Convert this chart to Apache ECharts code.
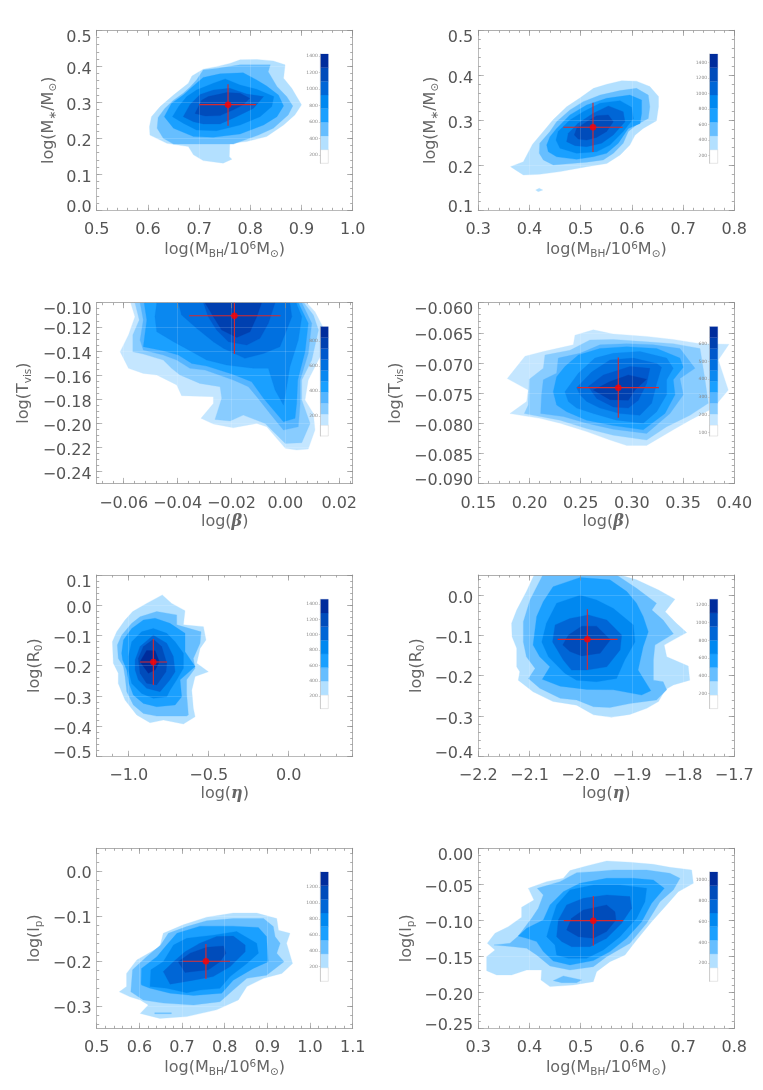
<!DOCTYPE html>
<html><head><meta charset="utf-8">
<style>html,body{margin:0;padding:0;background:#fff}#c{width:763px;height:1090px}</style>
<script src="https://cdn.jsdelivr.net/npm/echarts@6/dist/echarts.min.js"></script>
</head><body><div id="c"></div>
<script>
// ---------- contour outlines: [level [polygon [x,y]...]...] in data units ----------
const p1Contours = [
 [[[.603,.232],[.607,.260],[.624,.288],[.650,.320],[.679,.353],[.686,.373],[.708,.392],[.734,.399],[.760,.408],[.780,.418],[.813,.419],[.845,.415],[.868,.404],[.865,.367],[.881,.339],[.900,.293],[.887,.265],[.865,.237],[.832,.205],[.793,.191],[.760,.186],[.759,.149],[.764,.142],[.747,.131],[.708,.138],[.689,.154],[.679,.177],[.637,.186],[.617,.200],[.604,.209]]],
 [[[.618,.228],[.620,.258],[.633,.283],[.650,.306],[.669,.325],[.682,.342],[.695,.362],[.708,.390],[.734,.394],[.780,.404],[.839,.404],[.835,.385],[.852,.344],[.871,.316],[.883,.290],[.874,.265],[.845,.228],[.816,.209],[.767,.184],[.702,.184],[.650,.184],[.630,.200]]],
 [[[.632,.260],[.646,.297],[.669,.320],[.686,.342],[.708,.369],[.741,.379],[.786,.382],[.8125,.362],[.832,.345],[.855,.320],[.865,.290],[.852,.260],[.826,.237],[.780,.212],[.728,.203],[.689,.205],[.650,.228]]],
 [[[.648,.260],[.660,.288],[.676,.316],[.695,.334],[.728,.353],[.751,.365],[.780,.348],[.8125,.336],[.846,.316],[.842,.288],[.819,.260],[.780,.237],[.734,.221],[.695,.223],[.669,.242]]],
 [[[.669,.260],[.682,.293],[.702,.322],[.728,.334],[.760,.339],[.793,.323],[.826,.316],[.806,.283],[.773,.260],[.741,.240],[.708,.240],[.689,.246]]],
 [[[.692,.269],[.705,.306],[.718,.316],[.754,.327],[.780,.325],[.799,.311],[.786,.293],[.767,.279],[.741,.263],[.712,.262]]]
];
const p2Contours = [
 [[[.363,.197],[.388,.208],[.406,.247],[.427,.275],[.446,.301],[.4725,.330],[.499,.350],[.525,.371],[.551,.380],[.580,.388],[.609,.387],[.635,.375],[.652,.353],[.652,.330],[.648,.299],[.622,.282],[.606,.267],[.596,.245],[.577,.223],[.551,.204],[.512,.197],[.460,.186],[.420,.180],[.388,.1785],[.375,.188]],
  [[.412,.145],[.419,.149],[.426,.145],[.417,.1415]]],
 [[[.419,.227],[.420,.249],[.440,.275],[.453,.297],[.479,.323],[.505,.3415],[.538,.356],[.577,.366],[.609,.371],[.632,.356],[.635,.330],[.632,.304],[.609,.290],[.593,.275],[.583,.249],[.564,.227],[.544,.212],[.512,.207],[.4465,.2007],[.427,.212]]],
 [[[.4335,.245],[.440,.2637],[.453,.282],[.479,.312],[.5116,.334],[.5506,.349],[.596,.356],[.619,.345],[.619,.3156],[.616,.293],[.593,.282],[.5734,.249],[.5506,.2267],[.5246,.219],[.492,.2133],[.453,.219],[.4367,.230]]],
 [[[.4517,.256],[.456,.275],[.479,.3007],[.505,.319],[.5376,.338],[.5767,.3437],[.5995,.329],[.603,.304],[.583,.275],[.557,.245],[.531,.230],[.492,.2267],[.4595,.238]]],
 [[[.4725,.2526],[.4758,.271],[.495,.2933],[.5246,.3156],[.554,.332],[.583,.319],[.5865,.297],[.5637,.2674],[.5409,.249],[.5116,.2415],[.489,.2437]]],
 [[[.4875,.2674],[.492,.282],[.5116,.297],[.531,.310],[.554,.312],[.5637,.297],[.5506,.275],[.531,.262],[.5116,.256],[.495,.2585]]]
];
const p3Contours = [
 [[[-.0574,-.10],[-.0558,-.1116],[-.0582,-.1268],[-.0613,-.1407],[-.0582,-.1545],[-.0527,-.1587],[-.0477,-.16],[-.0403,-.1683],[-.0385,-.1772],[-.0267,-.178],[-.0267,-.1836],[-.0313,-.196],[-.0267,-.2007],[-.0193,-.2038],[-.0106,-.2002],[-.0069,-.203],[0,-.2209],[.0042,-.2223],[.0085,-.2215],[.011,-.2057],[.0104,-.1919],[.0073,-.1808],[.0085,-.1642],[.0129,-.1448],[.0139,-.1199],[.011,-.1075],[.0079,-.10]]],
 [[[-.0558,-.10],[-.0542,-.1144],[-.0566,-.1268],[-.0566,-.1407],[-.0527,-.1426],[-.0453,-.1476],[-.0422,-.1545],[-.0391,-.16],[-.0317,-.167],[-.0242,-.1697],[-.0236,-.1794],[-.0261,-.1969],[-.0205,-.1982],[-.0156,-.1933],[-.0075,-.2002],[0,-.2168],[.0061,-.2162],[.0092,-.2002],[.0061,-.1808],[.0061,-.1642],[.0098,-.1476],[.0123,-.1227],[.0104,-.1102],[.0069,-.10]]],
 [[[-.0539,-.10],[-.0527,-.1144],[-.0539,-.131],[-.0527,-.1393],[-.0453,-.1434],[-.0403,-.1476],[-.0354,-.1545],[-.0298,-.1559],[-.0193,-.1642],[-.0137,-.1697],[-.0106,-.178],[-.0057,-.1919],[-.0007,-.2057],[.0048,-.203],[.0055,-.1836],[.0055,-.1642],[.0085,-.1421],[.0098,-.1171],[.0061,-.10]]],
 [[[-.0524,-.10],[-.0514,-.1144],[-.0527,-.1365],[-.0453,-.1398],[-.0397,-.1434],[-.0347,-.1504],[-.0292,-.1526],[-.0193,-.1595],[-.0125,-.1656],[-.0081,-.1794],[-.0007,-.1988],[.0036,-.196],[.0042,-.1836],[.0046,-.1642],[.0073,-.1407],[.0085,-.1171],[.0048,-.10]]],
 [[[-.0477,-.10],[-.0484,-.1116],[-.0477,-.1241],[-.0415,-.1324],[-.0347,-.1407],[-.0292,-.1476],[-.0218,-.1517],[-.0119,-.1545],[-.0063,-.1545],[-.0038,-.1725],[-.0007,-.185],[.0005,-.1697],[.0017,-.1531],[.0048,-.131],[.0061,-.1116],[.004,-.10]]],
 [[[-.0397,-.10],[-.0385,-.1102],[-.0329,-.1213],[-.0267,-.1324],[-.023,-.1379],[-.015,-.1462],[-.0081,-.1421],[-.002,-.1365],[.0005,-.1227],[.0024,-.1116],[.0017,-.10]]],
 [[[-.0304,-.10],[-.0286,-.1116],[-.0255,-.1227],[-.0211,-.1324],[-.0143,-.1351],[-.0094,-.1296],[-.0063,-.1171],[-.0038,-.10]]],
 [[[-.0298,-.10],[-.0267,-.1116],[-.0236,-.1227],[-.018,-.1288],[-.0131,-.1241],[-.0106,-.1116],[-.0088,-.10]]]
];
const p4Contours = [
 [[[.1783,-.0726],[.1956,-.0689],[.2135,-.0681],[.2428,-.067],[.2444,-.0654],[.2623,-.0645],[.2818,-.0652],[.3144,-.0656],[.3404,-.0661],[.3665,-.0668],[.3948,-.0669],[.3844,-.0695],[.3941,-.0745],[.3795,-.0775],[.3567,-.0795],[.3404,-.0811],[.3144,-.0837],[.2949,-.0837],[.2786,-.0828],[.2558,-.0814],[.2298,-.08],[.2102,-.0792],[.1809,-.0784],[.1972,-.0764],[.1988,-.0745]]],
 [[[.1998,-.0727],[.2135,-.0709],[.2151,-.0687],[.2395,-.0679],[.259,-.0662],[.2818,-.0661],[.3144,-.0665],[.3404,-.0668],[.3665,-.0676],[.3714,-.0728],[.3746,-.0767],[.3567,-.0787],[.3339,-.0806],[.3144,-.0828],[.2818,-.082],[.2558,-.0809],[.2298,-.0795],[.1949,-.0784],[.1988,-.077]]],
 [[[.2118,-.0753],[.2135,-.0728],[.2265,-.0717],[.2281,-.0692],[.2493,-.0684],[.2688,-.067],[.2949,-.0668],[.3209,-.067],[.3469,-.0676],[.3616,-.0709],[.3469,-.0726],[.3502,-.0753],[.3372,-.0784],[.3144,-.0817],[.2818,-.081],[.2558,-.08],[.233,-.0789],[.2109,-.0784]]],
 [[[.2232,-.0748],[.2265,-.0723],[.2346,-.0706],[.2477,-.0687],[.2688,-.0676],[.2949,-.0673],[.3242,-.0676],[.3469,-.0692],[.3502,-.0707],[.3404,-.0728],[.3421,-.0753],[.3323,-.0784],[.3111,-.0811],[.2818,-.0804],[.2558,-.0795],[.2363,-.0781],[.2265,-.077]]],
 [[[.2346,-.0748],[.2477,-.0717],[.2639,-.0692],[.2818,-.0684],[.3079,-.0681],[.3339,-.0692],[.3404,-.0709],[.3339,-.0728],[.3339,-.0753],[.3242,-.0781],[.3111,-.08],[.2851,-.0795],[.2623,-.0784],[.246,-.0775],[.2379,-.0764]]],
 [[[.246,-.0741],[.2607,-.0715],[.2786,-.0695],[.3014,-.0692],[.3242,-.0701],[.329,-.0707],[.3242,-.0734],[.3193,-.0767],[.3079,-.0787],[.2883,-.0784],[.2688,-.0775],[.2558,-.0764],[.2493,-.0753]]],
 [[[.2574,-.0739],[.2721,-.072],[.2981,-.0706],[.3176,-.0709],[.3144,-.0734],[.3063,-.0762],[.2965,-.0775],[.2818,-.0773],[.2656,-.0759]]],
 [[[.2623,-.0745],[.2786,-.0731],[.2965,-.072],[.3144,-.0727],[.303,-.0745],[.2965,-.0762],[.2786,-.0761]]]
];
const p5Contours = [
 [[[-1.102,-.121],[-1.075,-.088],[-1.023,-.049],[-.975,-.021],[-.888,.006],[-.79,.034],[-.731,.006],[-.648,-.018],[-.658,-.065],[-.533,-.071],[-.517,-.115],[-.554,-.143],[-.575,-.192],[-.502,-.22],[-.585,-.236],[-.606,-.281],[-.596,-.341],[-.585,-.369],[-.658,-.393],[-.783,-.38],[-.867,-.389],[-.95,-.363],[-1.023,-.314],[-1.065,-.259],[-1.065,-.225],[-1.096,-.192]]],
 [[[-1.071,-.132],[-1.044,-.099],[-.981,-.06],[-.929,-.038],[-.825,-.021],[-.7,-.032],[-.7,-.065],[-.548,-.088],[-.554,-.126],[-.596,-.176],[-.585,-.209],[-.638,-.247],[-.638,-.292],[-.627,-.363],[-.638,-.367],[-.825,-.367],[-.908,-.358],[-.971,-.33],[-1.012,-.286],[-1.023,-.236],[-1.033,-.203],[-1.065,-.176]]],
 [[[-1.044,-.159],[-1.033,-.115],[-.981,-.077],[-.908,-.049],[-.835,-.043],[-.742,-.06],[-.648,-.093],[-.648,-.154],[-.585,-.203],[-.679,-.247],[-.669,-.303],[-.71,-.33],[-.825,-.336],[-.908,-.325],[-.971,-.297],[-.998,-.259],[-1.012,-.214],[-1.038,-.181]]],
 [[[-1.002,-.17],[-.981,-.121],[-.919,-.088],[-.846,-.077],[-.762,-.093],[-.71,-.121],[-.658,-.159],[-.658,-.209],[-.7,-.247],[-.742,-.281],[-.762,-.303],[-.846,-.308],[-.919,-.292],[-.981,-.259],[-1.002,-.214]]],
 [[[-.96,-.181],[-.929,-.137],[-.846,-.099],[-.762,-.126],[-.721,-.17],[-.71,-.22],[-.742,-.247],[-.804,-.286],[-.888,-.275],[-.94,-.247],[-.96,-.214]]],
 [[[-.94,-.176],[-.908,-.137],[-.846,-.113],[-.794,-.137],[-.762,-.192],[-.767,-.22],[-.825,-.264],[-.888,-.258],[-.929,-.225]]],
 [[[-.929,-.187],[-.888,-.15],[-.835,-.151],[-.808,-.187],[-.835,-.214],[-.877,-.225]]]
];
const p6Contours = [
 [[[-2.091,.05],[-2.106,.009],[-2.125,-.037],[-2.135,-.07],[-2.134,-.103],[-2.125,-.132],[-2.125,-.178],[-2.119,-.19],[-2.122,-.211],[-2.093,-.24],[-2.054,-.264],[-2.008,-.273],[-1.975,-.297],[-1.94,-.303],[-1.904,-.296],[-1.871,-.281],[-1.848,-.264],[-1.835,-.235],[-1.819,-.223],[-1.787,-.211],[-1.79,-.176],[-1.832,-.153],[-1.837,-.124],[-1.819,-.111],[-1.793,-.093],[-1.813,-.07],[-1.835,-.041],[-1.816,-.01],[-1.848,.013],[-1.891,.038],[-1.923,.05]]],
 [[[-2.074,.05],[-2.099,-.012],[-2.112,-.066],[-2.112,-.116],[-2.106,-.153],[-2.089,-.182],[-2.102,-.207],[-2.08,-.231],[-2.04,-.256],[-2.008,-.26],[-1.975,-.277],[-1.943,-.279],[-1.904,-.269],[-1.852,-.26],[-1.832,-.235],[-1.839,-.215],[-1.858,-.211],[-1.858,-.161],[-1.855,-.124],[-1.819,-.096],[-1.839,-.062],[-1.861,-.037],[-1.852,-.02],[-1.891,.017],[-1.93,.05]]],
 [[[-2.054,.021],[-2.001,.044],[-1.943,.038],[-1.91,.009],[-1.891,-.02],[-1.878,-.053],[-1.868,-.091],[-1.878,-.128],[-1.888,-.186],[-1.863,-.237],[-1.881,-.248],[-1.936,-.235],[-1.988,-.234],[-2.04,-.226],[-2.075,-.209],[-2.06,-.178],[-2.08,-.153],[-2.093,-.124],[-2.086,-.053],[-2.073,-.016]]],
 [[[-2.076,-.116],[-2.067,-.07],[-2.047,-.02],[-2.001,0],[-1.969,-.012],[-1.936,-.033],[-1.897,-.074],[-1.894,-.116],[-1.914,-.161],[-1.93,-.207],[-1.969,-.215],[-2.008,-.211],[-2.031,-.194],[-2.063,-.153]]],
 [[[-2.055,-.116],[-2.05,-.074],[-2.021,-.058],[-1.985,-.049],[-1.949,-.062],[-1.92,-.099],[-1.923,-.136],[-1.949,-.178],[-1.988,-.186],[-2.018,-.186],[-2.034,-.161]]],
 [[[-2.035,-.124],[-2.024,-.099],[-1.998,-.077],[-1.969,-.077],[-1.942,-.111],[-1.962,-.144],[-1.998,-.151],[-2.021,-.14]]]
];
const p7Contours = [
 [[[.553,-.269],[.57,-.257],[.57,-.228],[.594,-.198],[.648,-.169],[.656,-.139],[.703,-.12],[.758,-.103],[.82,-.094],[.875,-.094],[.922,-.106],[.926,-.132],[.953,-.139],[.945,-.161],[.959,-.206],[.934,-.228],[.891,-.239],[.852,-.257],[.832,-.287],[.781,-.309],[.711,-.324],[.648,-.328],[.602,-.317],[.621,-.298],[.602,-.287],[.578,-.28]]],
 [[[.58,-.269],[.584,-.22],[.617,-.191],[.65,-.165],[.668,-.139],[.711,-.124],[.758,-.111],[.82,-.106],[.891,-.106],[.914,-.124],[.918,-.146],[.93,-.161],[.922,-.183],[.939,-.202],[.898,-.232],[.852,-.239],[.82,-.265],[.789,-.291],[.727,-.298],[.656,-.294],[.609,-.287]],
  [[.636,-.3155],[.675,-.3155],[.675,-.3175],[.636,-.3175]]],
 [[[.604,-.25],[.605,-.217],[.641,-.191],[.664,-.165],[.688,-.139],[.742,-.123],[.82,-.123],[.879,-.126],[.898,-.146],[.902,-.202],[.867,-.217],[.82,-.243],[.793,-.272],[.727,-.277],[.672,-.272],[.625,-.261],[.605,-.254]]],
 [[[.625,-.257],[.627,-.22],[.656,-.202],[.68,-.165],[.711,-.15],[.773,-.143],[.828,-.135],[.875,-.161],[.879,-.183],[.852,-.206],[.8125,-.235],[.789,-.261],[.742,-.265],[.711,-.271],[.664,-.261]]],
 [[[.656,-.224],[.68,-.202],[.707,-.18],[.742,-.161],[.781,-.146],[.82,-.145],[.848,-.165],[.848,-.18],[.8125,-.213],[.773,-.235],[.727,-.243],[.672,-.252]]],
 [[[.691,-.202],[.719,-.183],[.758,-.17],[.797,-.167],[.803,-.183],[.789,-.202],[.762,-.22],[.707,-.226]]]
];
const p8Contours = [
 [[[.3176,-.1319],[.3326,-.1181],[.3586,-.1088],[.3846,-.0958],[.3846,-.0819],[.4087,-.0718],[.3977,-.0556],[.4335,-.0463],[.466,-.0417],[.479,-.031],[.5116,-.0245],[.5506,-.0176],[.596,-.0194],[.6418,-.0222],[.6743,-.0264],[.7167,-.0301],[.72,-.0486],[.6906,-.0602],[.6678,-.0787],[.6385,-.1019],[.6092,-.1273],[.5865,-.1481],[.5572,-.1574],[.5311,-.1713],[.5246,-.1852],[.4855,-.1898],[.44,-.1921],[.4224,-.1829],[.4237,-.169],[.3944,-.169],[.3651,-.1759],[.3358,-.1759],[.3163,-.1699],[.3163,-.1505],[.3326,-.1412]]],
 [[[.3306,-.1343],[.3618,-.1319],[.3781,-.1218],[.4042,-.0972],[.4172,-.0833],[.427,-.0648],[.4152,-.0556],[.4595,-.0463],[.4921,-.0338],[.5246,-.0324],[.5637,-.0301],[.6288,-.0301],[.6743,-.0347],[.6939,-.0417],[.6809,-.0579],[.6548,-.0741],[.6288,-.1042],[.5962,-.1319],[.5506,-.1505],[.5246,-.1644],[.479,-.169],[.44,-.1634],[.4139,-.1481],[.3944,-.1389],[.3684,-.1366]],
  [[.4465,-.1838],[.466,-.1773],[.5018,-.1829],[.492,-.1866],[.4628,-.1866]]],
 [[[.3781,-.1218],[.3944,-.1111],[.427,-.0995],[.44,-.0787],[.466,-.0602],[.4986,-.0486],[.5506,-.0417],[.6027,-.0417],[.6418,-.044],[.6633,-.0556],[.6385,-.0764],[.619,-.1019],[.5897,-.125],[.5572,-.1435],[.5246,-.156],[.479,-.162],[.4465,-.1565],[.427,-.1435],[.4139,-.1296],[.3944,-.125]]],
 [[[.4335,-.1227],[.44,-.1065],[.453,-.0787],[.479,-.0579],[.5246,-.0509],[.5767,-.0509],[.6288,-.0556],[.6255,-.0741],[.6092,-.0972],[.5767,-.1227],[.5441,-.1412],[.5116,-.1528],[.4758,-.1528],[.453,-.1481],[.4497,-.1343]]],
 [[[.453,-.1227],[.4563,-.0995],[.4725,-.0787],[.5051,-.0694],[.5506,-.0648],[.5962,-.0671],[.5995,-.0833],[.5799,-.1042],[.5506,-.125],[.5181,-.1366],[.4823,-.1366],[.4628,-.1296]]],
 [[[.4725,-.1134],[.4823,-.0972],[.5051,-.0856],[.5506,-.0787],[.5669,-.088],[.5689,-.0995],[.5506,-.1157],[.5246,-.125],[.4953,-.1227]]]
];
// ---------- best-fit point and error bars: [x, y], [xLow, xHigh], [yLow, yHigh] ----------
const p1Best = [[.7565,.2935],[.7005,.811],[.235,.35]];
const p2Best = [[.524,.2844],[.466,.582],[.2296,.339]];
const p3Best = [[-.0189,-.1108],[-.0357,-.0018],[-.1426,-.10]];
const p4Best = [[.2867,-.0741],[.2467,.3264],[-.0791,-.0691]];
const p5Best = [[-.846,-.188],[-.929,-.76],[-.264,-.112]];
const p6Best = [[-1.987,-.1097],[-2.045,-1.928],[-.185,-.035]];
const p7Best = [[.756,-.2011],[.702,.8125],[-.2404,-.1626]];
const p8Best = [[.5246,-.1005],[.467,.583],[-.1352,-.0662]];
// ---------- colour-bar band edges and tick labels ----------
const p1Bands = [99,265,430,596,762,927,1093,1258,1424];
const p2Bands = [101,277,454,630,807,983,1159,1336,1512];
const p3Bands = [43,130,217,304,392,479,566,653,741,828,915];
const p4Bands = [81,143,204,266,327,389,450,512,573,635,696];
const p5Bands = [39,217,395,572,750,928,1106,1283,1461];
const p6Bands = [30,184,339,493,647,801,956,1110,1264];
const p7Bands = [15,187,360,532,704,876,1049,1221,1393];
const p8Bands = [27,158,290,421,552,683,814,946,1077];
const p1BarTicks = [200,400,600,800,1000,1200,1400];
const p2BarTicks = [200,400,600,800,1000,1200,1400];
const p3BarTicks = [200,400,600,800];
const p4BarTicks = [100,200,300,400,500,600];
const p5BarTicks = [200,400,600,800,1000,1200,1400];
const p6BarTicks = [200,400,600,800,1000,1200];
const p7BarTicks = [200,400,600,800,1000,1200];
const p8BarTicks = [200,400,600,800,1000];
// ---------- axis ticks ----------
const p1XTicks = [.5,.6,.7,.8,.9,1.0], p1YTicks = [0,.1,.2,.3,.4,.5];
const p2XTicks = [.3,.4,.5,.6,.7,.8], p2YTicks = [.1,.2,.3,.4,.5];
const p3XTicks = [-.06,-.04,-.02,0,.02], p3YTicks = [-.24,-.22,-.20,-.18,-.16,-.14,-.12,-.10];
const p4XTicks = [.15,.20,.25,.30,.35,.40], p4YTicks = [-.09,-.085,-.08,-.075,-.07,-.065,-.06];
const p5XTicks = [-1,-.5,0], p5YTicks = [-.5,-.4,-.3,-.2,-.1,0,.1];
const p6XTicks = [-2.2,-2.1,-2.0,-1.9,-1.8,-1.7], p6YTicks = [-.4,-.3,-.2,-.1,0];
const p7XTicks = [.5,.6,.7,.8,.9,1.0,1.1], p7YTicks = [-.3,-.2,-.1,0];
const p8XTicks = [.3,.4,.5,.6,.7,.8], p8YTicks = [-.25,-.20,-.15,-.10,-.05,0];

const shades7 = ['#B3E0FF','#66BEFF','#1AA0FF','#0088F0','#0066D6','#004CBB','#002C9C'];
const shades9 = ['#C4E6FF','#88CCFF','#55B5FF','#1AA0FF','#0A88F0','#0070E0','#0058CC','#0040B0','#002C9C'];

const t = {fontFamily:'DejaVu Sans',color:'#666',fontSize:16};
const richNames = {
  a:{...t}, s:{...t,fontSize:10.5,padding:[8,0,0,0]}, u:{...t,fontSize:10.5,padding:[0,0,9,0]},
  g:{...t,fontStyle:'italic',fontWeight:'bold',fontFamily:'DejaVu Serif'}
};
const nMbh='{a|log(M}{s|BH}{a|/10}{u|6}{a|M}{s|⊙}{a|)}', nMs='{a|log(M}{s|∗}{a|/M}{s|⊙}{a|)}',
      nTv='{a|log(T}{s|vis}{a|)}', nBeta='{a|log(}{g|β}{a|)}', nEta='{a|log(}{g|η}{a|)}',
      nR='{a|log(R}{s|0}{a|)}', nL='{a|log(l}{s|p}{a|)}';

const panels = [
 {c:p1Contours,b:p1Best,bands:p1Bands,bt:p1BarTicks,sh:shades7,xr:[.5,1],yr:[0,.5],xt:p1XTicks,yt:p1YTicks,xd:1,yd:1,xm:.02,ym:.02,xn:nMbh,yn:nMs,l:96.7,tp:30.3,h:180,bl:320.3,bt0:54,yg:38},
 {c:p2Contours,b:p2Best,bands:p2Bands,bt:p2BarTicks,sh:shades7,xr:[.3,.8],yr:[.1,.5],xt:p2XTicks,yt:p2YTicks,xd:1,yd:1,xm:.02,ym:.02,xn:nMbh,yn:nMs,l:478.3,tp:30.3,h:180,bl:709.7,bt0:54,yg:38},
 {c:p3Contours,b:p3Best,bands:p3Bands,bt:p3BarTicks,sh:shades9,xr:[-.07,.025],yr:[-.25,-.10],xt:p3XTicks,yt:p3YTicks,xd:2,yd:2,xm:.004,ym:.005,xn:nBeta,yn:nTv,l:96.7,tp:302.7,h:180.7,bl:320.3,bt0:326.7,yg:63},
 {c:p4Contours,b:p4Best,bands:p4Bands,bt:p4BarTicks,sh:shades9,xr:[.15,.40],yr:[-.09,-.06],xt:p4XTicks,yt:p4YTicks,xd:2,yd:3,xm:.01,ym:.001,xn:nBeta,yn:nTv,l:478.3,tp:302.7,h:180.7,bl:709.7,bt0:326.7,yg:73},
 {c:p5Contours,b:p5Best,bands:p5Bands,bt:p5BarTicks,sh:shades7,xr:[-1.2,.4],yr:[-.5,.1],xt:p5XTicks,yt:p5YTicks,xd:1,yd:1,xm:.1,ym:.02,xn:nEta,yn:nR,l:96.7,tp:575,h:181.3,bl:320.3,bt0:599.3,yg:52},
 {c:p6Contours,b:p6Best,bands:p6Bands,bt:p6BarTicks,sh:shades7,xr:[-2.2,-1.7],yr:[-.4,.05],xt:p6XTicks,yt:p6YTicks,xd:1,yd:1,xm:.02,ym:.02,xn:nEta,yn:nR,l:478.3,tp:575,h:181.3,bl:709.7,bt0:599.3,yg:52},
 {c:p7Contours,b:p7Best,bands:p7Bands,bt:p7BarTicks,sh:shades7,xr:[.5,1.1],yr:[-.35,.05],xt:p7XTicks,yt:p7YTicks,xd:1,yd:1,xm:.02,ym:.02,xn:nMbh,yn:nL,l:96.7,tp:848.3,h:180,bl:320.3,bt0:872,yg:52},
 {c:p8Contours,b:p8Best,bands:p8Bands,bt:p8BarTicks,sh:shades7,xr:[.3,.8],yr:[-.25,0],xt:p8XTicks,yt:p8YTicks,xd:1,yd:2,xm:.02,ym:.01,xn:nMbh,yn:nL,l:478.3,tp:848.3,h:180,bl:709.7,bt0:872,yg:62}
];

const lineC='#999', tickC='#888';
function minors(range,ticks,step){
  const out=[];const n=Math.round((range[1]-range[0])/step)+2;
  for(let k=-n;k<=n;k++){const v=+(ticks[0]+k*step).toFixed(6);if(v>=range[0]-1e-9&&v<=range[1]+1e-9)out.push(v);}
  return out;
}
const num=(v,d)=>{const s=(+v).toFixed(d);return (Math.abs(+v)<1e-9?(0).toFixed(d):s).replace('-','−');};
const fmtX=d=>v=>num(v,d);
const fmtY=(d,r)=>v=>{
  const tok=Math.abs(v-r[1])<1e-7?'t':Math.abs(v-r[0])<1e-7?'b':'m';
  return '{'+tok+'|'+num(v,d)+'}';
};
const lab={color:'#555',fontFamily:'DejaVu Sans',fontSize:16};
const labelRich={m:{...lab,padding:[7,0,0,0]},t:{...lab,padding:[15,0,0,0]},b:{...lab,padding:[0,0,5,0]}};
const grid=[],xAxis=[],yAxis=[],series=[];
function axis(pos,gi,range,ticks,len,extra){
  return Object.assign({type:'value',gridIndex:gi,position:pos,min:range[0],max:range[1],scale:true,
    axisLine:{show:true,onZero:false,lineStyle:{color:lineC,width:.8}},
    axisTick:{show:true,inside:true,length:len,customValues:ticks,lineStyle:{color:tickC,width:.7}},
    axisLabel:{show:false},splitLine:{show:false},minorTick:{show:false},silent:true},extra||{});
}
panels.forEach((p)=>{
  const W=256, gi=grid.length;
  grid.push({left:p.l,top:p.tp,width:W,height:p.h,containLabel:false});
  const xi=xAxis.length, yi=yAxis.length;
  xAxis.push(axis('bottom',gi,p.xr,p.xt,5.5,{
    name:p.xn,nameLocation:'middle',nameGap:30,nameTextStyle:{rich:richNames,...t},
    axisLabel:{show:true,customValues:p.xt,formatter:fmtX(p.xd),margin:12,...lab,hideOverlap:false,showMinLabel:true,showMaxLabel:true}
  }));
  xAxis.push(axis('top',gi,p.xr,p.xt,5.5,{z:3,splitLine:{show:true,lineStyle:{color:'#fff',opacity:.15,width:1}}}));
  yAxis.push(axis('left',gi,p.yr,p.yt,5.5,{
    name:p.yn,nameLocation:'middle',nameGap:p.yg,nameRotate:90,nameTextStyle:{rich:richNames,...t},
    axisLabel:{show:true,customValues:p.yt,formatter:fmtY(p.yd,p.yr),rich:labelRich,margin:5,...lab,hideOverlap:false,showMinLabel:true,showMaxLabel:true}
  }));
  yAxis.push(axis('right',gi,p.yr,p.yt,5.5,{z:3,splitLine:{show:true,lineStyle:{color:'#fff',opacity:.15,width:1}}}));
  const mg=grid.length; grid.push({left:p.l,top:p.tp,width:W,height:p.h});
  const mx=minors(p.xr,p.xt,p.xm), my=minors(p.yr,p.yt,p.ym);
  const noLine={axisLine:{show:false,onZero:false}};
  xAxis.push(axis('bottom',mg,p.xr,mx,2.5,noLine));
  xAxis.push(axis('top',mg,p.xr,mx,2.5,noLine));
  yAxis.push(axis('left',mg,p.yr,my,2.5,noLine));
  yAxis.push(axis('right',mg,p.yr,my,2.5,noLine));
  p.c.forEach((level,li)=>{
    series.push({type:'custom',xAxisIndex:xi,yAxisIndex:yi,silent:true,z:2,coordinateSystem:'cartesian2d',
      data:level.map((_,i)=>[i]),clip:true,
      renderItem:(params,api)=>{
        const poly=level[api.value(0)];
        return {type:'polygon',shape:{points:poly.map(q=>api.coord(q))},style:{fill:p.sh[li],stroke:p.sh[li],lineWidth:.3}};
      }});
  });
  const [c,ex,ey]=p.b;
  const crossStyle={color:'#D92A2E',width:1.1};
  series.push({type:'line',xAxisIndex:xi,yAxisIndex:yi,silent:true,z:4,symbol:'none',animation:false,lineStyle:crossStyle,data:[[ex[0],c[1]],[ex[1],c[1]]]});
  series.push({type:'line',xAxisIndex:xi,yAxisIndex:yi,silent:true,z:4,symbol:'none',animation:false,lineStyle:crossStyle,data:[[c[0],ey[0]],[c[0],ey[1]]]});
  series.push({type:'scatter',xAxisIndex:xi,yAxisIndex:yi,silent:true,z:5,symbol:'circle',symbolSize:6.5,itemStyle:{color:'#FF0000'},data:[c]});
  const bg=grid.length; grid.push({left:p.bl,top:p.bt0,width:8,height:109.3});
  const bx=xAxis.length, by=yAxis.length;
  const bc=['#FFFFFF',...p.sh];
  const br=[p.bands[0],p.bands[p.bands.length-1]];
  xAxis.push({type:'value',gridIndex:bg,min:0,max:1,show:false});
  yAxis.push({type:'value',gridIndex:bg,position:'left',min:br[0],max:br[1],scale:true,silent:true,z:6,
    axisLine:{show:true,onZero:false,lineStyle:{color:'#bbb',width:.6}},
    axisTick:{show:true,inside:false,length:1.5,customValues:p.bt,lineStyle:{color:'#aaa',width:.5}},
    axisLabel:{show:true,customValues:p.bt,formatter:v=>String(Math.round(v)),margin:2.5,color:'#888',fontSize:4.5,fontFamily:'DejaVu Sans',showMinLabel:true,showMaxLabel:true},
    splitLine:{show:false}});
  series.push({type:'custom',xAxisIndex:bx,yAxisIndex:by,silent:true,z:5,coordinateSystem:'cartesian2d',
    data:p.bands.slice(0,-1).map((_,i)=>[i]),
    renderItem:(params,api)=>{
      const i=api.value(0);
      const a=api.coord([0,p.bands[i]]), b=api.coord([1,p.bands[i+1]]);
      return {type:'rect',shape:{x:a[0],y:b[1],width:b[0]-a[0],height:a[1]-b[1]},
        style:{fill:bc[i],stroke:i===0?'#ccc':bc[i],lineWidth:i===0?.5:.2}};
    }});
});
const chart=echarts.init(document.getElementById('c'),null,{renderer:'canvas',width:763,height:1090});
chart.setOption({animation:false,backgroundColor:'#fff',grid,xAxis,yAxis,series});
</script></body></html>
